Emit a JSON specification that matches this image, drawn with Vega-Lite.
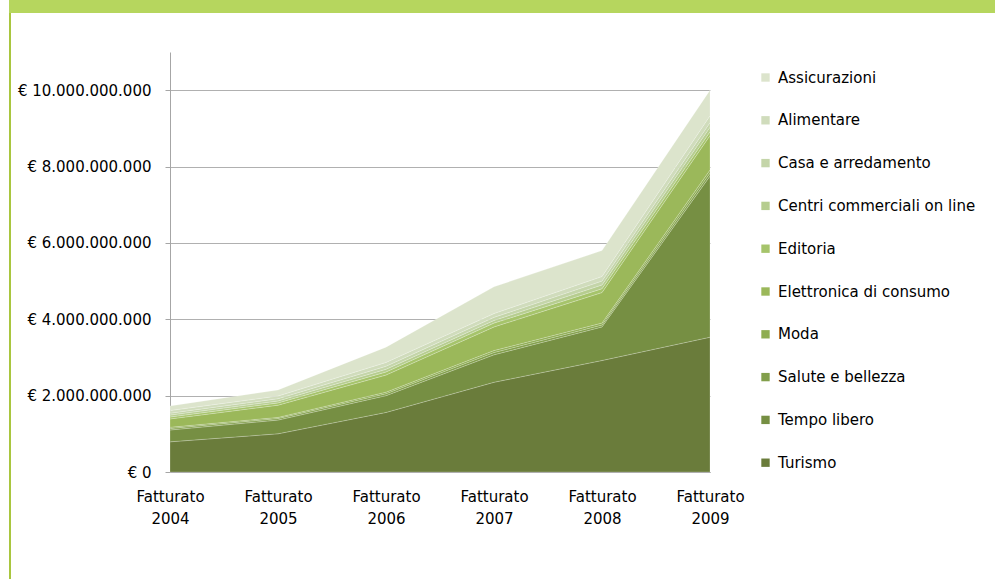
{
  "$schema": "https://vega.github.io/schema/vega-lite/v6.json",
  "padding": {"left": 7, "top": 0, "right": 0, "bottom": 0},
  "background": "white",
  "config": {
    "view": {"stroke": null},
    "font": "DejaVu Sans",
    "locale": {"number": {"decimal": ",", "thousands": ".", "grouping": [3], "currency": ["€ ", ""]}}
  },
  "bounds": "flush",
  "spacing": 0,
  "vconcat": [
    {
      "width": 988,
      "height": 13,
      "view": {"fill": "#b6d65e", "stroke": null},
      "data": {"values": [{"a": 1}]},
      "mark": {"type": "point", "opacity": 0},
      "encoding": {}
    },
    {
      "bounds": "flush",
      "spacing": 159,
      "hconcat": [
        {
          "width": 2,
          "height": 566,
          "view": {"fill": "#a9c63f", "stroke": null},
          "data": {"values": [{"a": 1}]},
          "mark": {"type": "point", "opacity": 0},
          "encoding": {}
        },
        {
          "bounds": "flush",
          "spacing": 38,
          "vconcat": [
            {
              "width": 540,
              "height": 1,
              "data": {"values": [{"a": 1}]},
              "mark": {"type": "point", "opacity": 0},
              "encoding": {}
            },
            {
              "width": 540,
              "height": 420,
              "data": {"values": [
                {"anno": "Fatturato 2004", "settore": "Turismo", "ordine": 1, "valore": 790000000},
                {"anno": "Fatturato 2004", "settore": "Tempo libero", "ordine": 2, "valore": 310000000},
                {"anno": "Fatturato 2004", "settore": "Salute e bellezza", "ordine": 3, "valore": 40000000},
                {"anno": "Fatturato 2004", "settore": "Moda", "ordine": 4, "valore": 30000000},
                {"anno": "Fatturato 2004", "settore": "Elettronica di consumo", "ordine": 5, "valore": 220000000},
                {"anno": "Fatturato 2004", "settore": "Editoria", "ordine": 6, "valore": 50000000},
                {"anno": "Fatturato 2004", "settore": "Centri commerciali on line", "ordine": 7, "valore": 50000000},
                {"anno": "Fatturato 2004", "settore": "Casa e arredamento", "ordine": 8, "valore": 50000000},
                {"anno": "Fatturato 2004", "settore": "Alimentare", "ordine": 9, "valore": 70000000},
                {"anno": "Fatturato 2004", "settore": "Assicurazioni", "ordine": 10, "valore": 120000000},
                {"anno": "Fatturato 2005", "settore": "Turismo", "ordine": 1, "valore": 1000000000},
                {"anno": "Fatturato 2005", "settore": "Tempo libero", "ordine": 2, "valore": 360000000},
                {"anno": "Fatturato 2005", "settore": "Salute e bellezza", "ordine": 3, "valore": 40000000},
                {"anno": "Fatturato 2005", "settore": "Moda", "ordine": 4, "valore": 30000000},
                {"anno": "Fatturato 2005", "settore": "Elettronica di consumo", "ordine": 5, "valore": 320000000},
                {"anno": "Fatturato 2005", "settore": "Editoria", "ordine": 6, "valore": 60000000},
                {"anno": "Fatturato 2005", "settore": "Centri commerciali on line", "ordine": 7, "valore": 50000000},
                {"anno": "Fatturato 2005", "settore": "Casa e arredamento", "ordine": 8, "valore": 60000000},
                {"anno": "Fatturato 2005", "settore": "Alimentare", "ordine": 9, "valore": 70000000},
                {"anno": "Fatturato 2005", "settore": "Assicurazioni", "ordine": 10, "valore": 160000000},
                {"anno": "Fatturato 2006", "settore": "Turismo", "ordine": 1, "valore": 1560000000},
                {"anno": "Fatturato 2006", "settore": "Tempo libero", "ordine": 2, "valore": 440000000},
                {"anno": "Fatturato 2006", "settore": "Salute e bellezza", "ordine": 3, "valore": 50000000},
                {"anno": "Fatturato 2006", "settore": "Moda", "ordine": 4, "valore": 40000000},
                {"anno": "Fatturato 2006", "settore": "Elettronica di consumo", "ordine": 5, "valore": 450000000},
                {"anno": "Fatturato 2006", "settore": "Editoria", "ordine": 6, "valore": 80000000},
                {"anno": "Fatturato 2006", "settore": "Centri commerciali on line", "ordine": 7, "valore": 70000000},
                {"anno": "Fatturato 2006", "settore": "Casa e arredamento", "ordine": 8, "valore": 80000000},
                {"anno": "Fatturato 2006", "settore": "Alimentare", "ordine": 9, "valore": 100000000},
                {"anno": "Fatturato 2006", "settore": "Assicurazioni", "ordine": 10, "valore": 400000000},
                {"anno": "Fatturato 2007", "settore": "Turismo", "ordine": 1, "valore": 2350000000},
                {"anno": "Fatturato 2007", "settore": "Tempo libero", "ordine": 2, "valore": 720000000},
                {"anno": "Fatturato 2007", "settore": "Salute e bellezza", "ordine": 3, "valore": 60000000},
                {"anno": "Fatturato 2007", "settore": "Moda", "ordine": 4, "valore": 50000000},
                {"anno": "Fatturato 2007", "settore": "Elettronica di consumo", "ordine": 5, "valore": 620000000},
                {"anno": "Fatturato 2007", "settore": "Editoria", "ordine": 6, "valore": 100000000},
                {"anno": "Fatturato 2007", "settore": "Centri commerciali on line", "ordine": 7, "valore": 70000000},
                {"anno": "Fatturato 2007", "settore": "Casa e arredamento", "ordine": 8, "valore": 80000000},
                {"anno": "Fatturato 2007", "settore": "Alimentare", "ordine": 9, "valore": 100000000},
                {"anno": "Fatturato 2007", "settore": "Assicurazioni", "ordine": 10, "valore": 700000000},
                {"anno": "Fatturato 2008", "settore": "Turismo", "ordine": 1, "valore": 2920000000},
                {"anno": "Fatturato 2008", "settore": "Tempo libero", "ordine": 2, "valore": 880000000},
                {"anno": "Fatturato 2008", "settore": "Salute e bellezza", "ordine": 3, "valore": 50000000},
                {"anno": "Fatturato 2008", "settore": "Moda", "ordine": 4, "valore": 50000000},
                {"anno": "Fatturato 2008", "settore": "Elettronica di consumo", "ordine": 5, "valore": 800000000},
                {"anno": "Fatturato 2008", "settore": "Editoria", "ordine": 6, "valore": 100000000},
                {"anno": "Fatturato 2008", "settore": "Centri commerciali on line", "ordine": 7, "valore": 100000000},
                {"anno": "Fatturato 2008", "settore": "Casa e arredamento", "ordine": 8, "valore": 100000000},
                {"anno": "Fatturato 2008", "settore": "Alimentare", "ordine": 9, "valore": 120000000},
                {"anno": "Fatturato 2008", "settore": "Assicurazioni", "ordine": 10, "valore": 680000000},
                {"anno": "Fatturato 2009", "settore": "Turismo", "ordine": 1, "valore": 3530000000},
                {"anno": "Fatturato 2009", "settore": "Tempo libero", "ordine": 2, "valore": 4220000000},
                {"anno": "Fatturato 2009", "settore": "Salute e bellezza", "ordine": 3, "valore": 80000000},
                {"anno": "Fatturato 2009", "settore": "Moda", "ordine": 4, "valore": 80000000},
                {"anno": "Fatturato 2009", "settore": "Elettronica di consumo", "ordine": 5, "valore": 900000000},
                {"anno": "Fatturato 2009", "settore": "Editoria", "ordine": 6, "valore": 100000000},
                {"anno": "Fatturato 2009", "settore": "Centri commerciali on line", "ordine": 7, "valore": 120000000},
                {"anno": "Fatturato 2009", "settore": "Casa e arredamento", "ordine": 8, "valore": 120000000},
                {"anno": "Fatturato 2009", "settore": "Alimentare", "ordine": 9, "valore": 180000000},
                {"anno": "Fatturato 2009", "settore": "Assicurazioni", "ordine": 10, "valore": 670000000}
              ]},
              "mark": {"type": "area", "stroke": "#ffffff", "strokeWidth": 0.7, "strokeOpacity": 0.3, "opacity": 1},
              "encoding": {
                "x": {
                  "field": "anno", "type": "ordinal", "sort": null,
                  "scale": {"type": "point", "padding": 0},
                  "axis": {
                    "title": null, "labelExpr": "split(datum.value, ' ')", "labelAngle": 0,
                    "labelFontSize": 15, "labelColor": "#000000", "labelLineHeight": 22,
                    "ticks": false, "labelPadding": 17, "domainColor": "#a6a6a6", "grid": false
                  }
                },
                "y": {
                  "field": "valore", "type": "quantitative", "stack": "zero",
                  "scale": {"domain": [0, 11000000000], "nice": false},
                  "axis": {
                    "title": null, "values": [0, 2000000000, 4000000000, 6000000000, 8000000000, 10000000000],
                    "format": "$,.0f", "labelFontSize": 15, "labelColor": "#000000",
                    "domainColor": "#a6a6a6", "tickColor": "#a6a6a6", "tickSize": 5, "labelPadding": 14,
                    "grid": true, "gridColor": "#b0b0b0"
                  }
                },
                "color": {
                  "field": "settore", "type": "nominal",
                  "scale": {
                    "domain": ["Assicurazioni", "Alimentare", "Casa e arredamento", "Centri commerciali on line", "Editoria", "Elettronica di consumo", "Moda", "Salute e bellezza", "Tempo libero", "Turismo"],
                    "range": ["#dce4cc", "#d0dcbc", "#c4d5a9", "#b6cd8f", "#a6c46b", "#9bb85a", "#8ead51", "#829f4b", "#768f43", "#6a7c3b"]
                  },
                  "legend": {
                    "title": null, "orient": "none", "legendX": 749, "legendY": 70,
                    "symbolType": "square", "symbolSize": 70, "symbolStrokeWidth": 0, "symbolOpacity": 1,
                    "labelFontSize": 15, "labelColor": "#000000", "rowPadding": 26.8, "labelOffset": 5, "labelLimit": 400
                  }
                },
                "order": {"field": "ordine", "type": "quantitative"}
              }
            }
          ]
        }
      ]
    }
  ]
}
